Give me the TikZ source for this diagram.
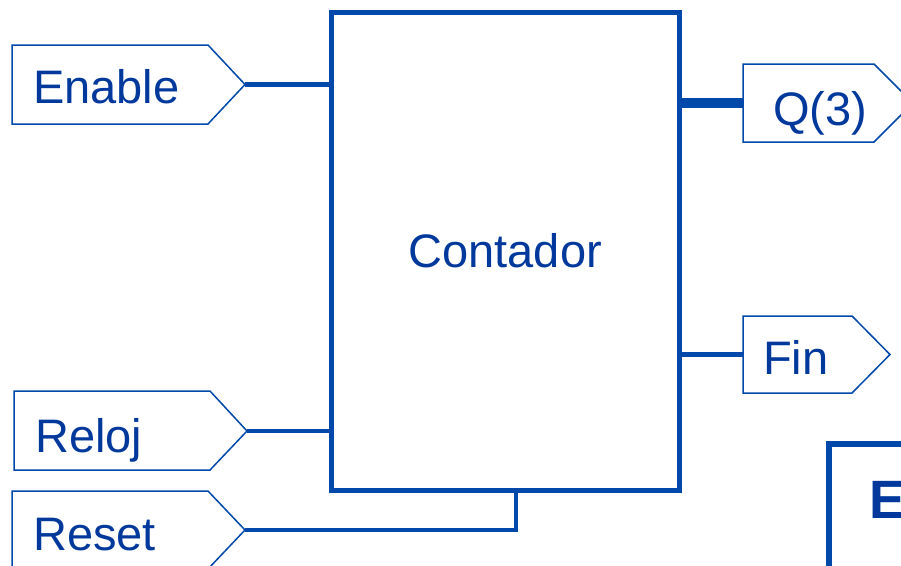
\documentclass[tikz,border=0pt]{standalone}
\usepackage{fontspec}
\setmainfont{Liberation Sans}
\begin{document}
\begin{tikzpicture}[x=1pt,y=-1pt,
  wire/.style={draw=lineblue,line width=4.5pt},
  bus/.style={draw=lineblue,line width=10pt},
  tag/.style={draw=lineblue,line width=1.5pt,fill=white,line join=miter},
  lbl/.style={text=textblue,anchor=base west,inner sep=0pt,font=\fontsize{47}{56}\selectfont}]
\definecolor{lineblue}{RGB}{0,72,170}
\definecolor{textblue}{RGB}{0,56,156}
\useasboundingbox (0,0) rectangle (901,565);
\clip (0,0) rectangle (901,565);

% counter block
\node[draw=lineblue,line width=5pt,minimum width=347.5pt,minimum height=478pt,
      inner sep=0pt,outer sep=0pt] (cnt) at (505.25,251) {};
\node[text=textblue,font=\fontsize{47}{56}\selectfont] (cntlbl) at (cnt.center) {Contador};

% input tags
\draw[tag] (12,45) -- (208,45) -- (245,84.5) -- (208,124) -- (12,124) -- cycle;
\coordinate (enTip) at (245,84.5);
\node[lbl] (enLbl) at (33,103) {Enable};

\draw[tag] (14,391) -- (210,391) -- (247,431) -- (210,470) -- (14,470) -- cycle;
\coordinate (clkTip) at (247,431);
\node[lbl] (clkLbl) at (35,452) {Reloj};

\draw[tag] (12,491) -- (208,491) -- (245,530) -- (208,569) -- (12,569) -- cycle;
\coordinate (rstTip) at (245,530);
\node[lbl] (rstLbl) at (33,550) {Reset};

% output tags
\draw[tag] (743,64) -- (874,64) -- (913,103) -- (874,142) -- (743,142) -- cycle;
\coordinate (qIn) at (743,103);
\node[lbl] (qLbl) at (773,125) {Q(3)};

\draw[tag] (743,316) -- (852,316) -- (890,354.5) -- (852,393) -- (743,393) -- cycle;
\coordinate (finIn) at (743,354.5);
\node[lbl] (finLbl) at (763,374) {Fin};

% connections
\draw[wire] (enTip) -- (cnt.west |- enTip);
\draw[wire] (clkTip) -- (cnt.west |- clkTip);
\draw[wire] (rstTip) -| (cnt.south -| 516,0);
\draw[bus] (cnt.east |- qIn) -- (qIn);
\draw[wire] (cnt.east |- finIn) -- (finIn);

% neighbouring block
\draw[draw=lineblue,line width=6pt] (829,580) -- (829,444) -- (910,444);
\node[text=textblue,anchor=base west,inner sep=0pt,
      font=\fontsize{54}{64}\selectfont\bfseries] (eLbl) at (869,518) {E};
\end{tikzpicture}
\end{document}
